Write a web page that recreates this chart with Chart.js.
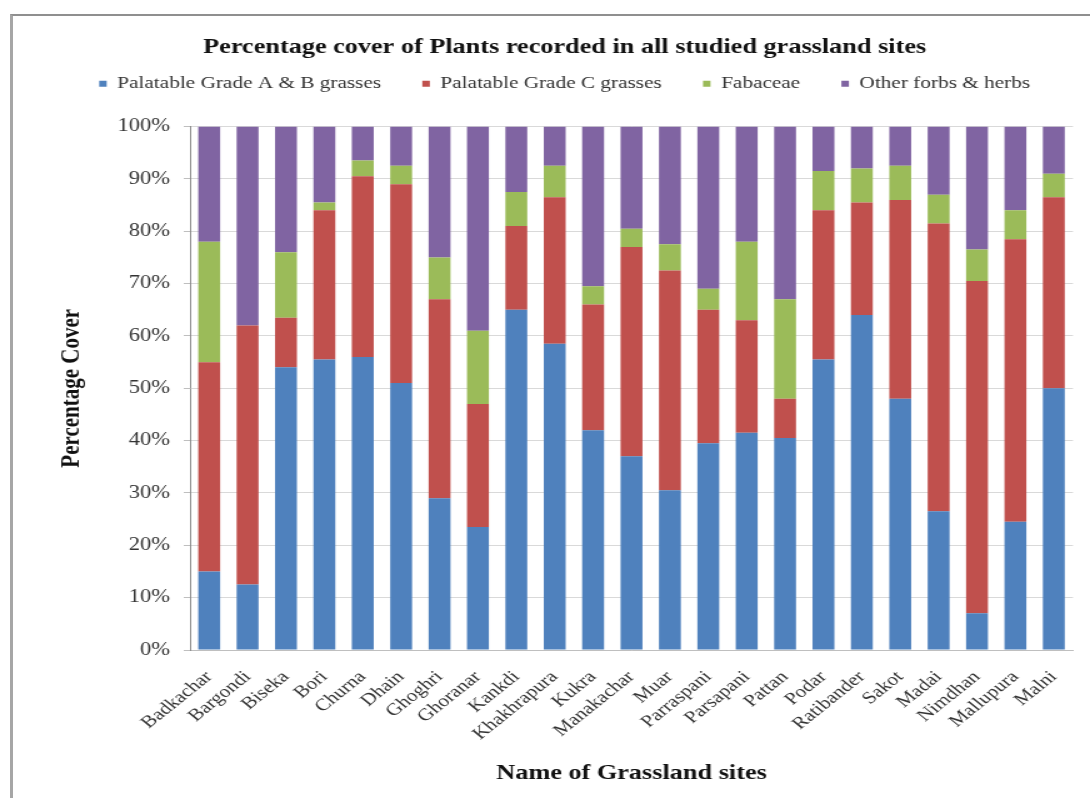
<!DOCTYPE html>
<html>
<head>
<meta charset="utf-8">
<script src="https://cdn.jsdelivr.net/npm/chart.js@4.4.1/dist/chart.umd.min.js"></script>
<style>
  html, body { margin: 0; padding: 0; background: #fff; }
  #wrap { position: relative; width: 1090px; height: 798px; overflow: hidden; }
  /* the chart is laid out at 872px wide and widened to fill the 1090px page */
  #stretch {
    position: absolute; left: 0; top: 0; width: 872px; height: 798px;
    transform: scaleX(1.25); transform-origin: 0 0;
  }
  #c { display: block; width: 872px; height: 798px; }
  #frame {
    position: absolute; left: 10px; top: 14px; right: -4px; bottom: -4px;
    border-left: 3px solid #a6a6a6; border-top: 2px solid #8f8f8f;
    box-sizing: border-box; pointer-events: none;
  }
</style>
</head>
<body>
<div id="wrap">
  <div id="stretch"><canvas id="c" width="872" height="798"></canvas></div>
  <div id="frame"></div>
</div>
<script>
// Grassland sites surveyed
const sites = [
  'Badkachar', 'Bargondi', 'Biseka', 'Bori', 'Churna', 'Dhain', 'Ghoghri',
  'Ghoranar', 'Kankdi', 'Khakhrapura', 'Kukra', 'Manakachar', 'Muar',
  'Parraspani', 'Parsapani', 'Pattan', 'Podar', 'Ratibander', 'Sakot',
  'Madai', 'Nimdhan', 'Mallupura', 'Malni'
];

// Percentage cover per plant group (each site sums to 100)
const gradeAB = [15, 12.5, 54, 55.5, 56, 51, 29, 23.5, 65, 58.5, 42, 37, 30.5, 39.5, 41.5, 40.5, 55.5, 64, 48, 26.5, 7, 24.5, 50];
const gradeC  = [40, 49.5, 9.5, 28.5, 34.5, 38, 38, 23.5, 16, 28, 24, 40, 42, 25.5, 21.5, 7.5, 28.5, 21.5, 38, 55, 63.5, 54, 36.5];
const fabaceae = [23, 0, 12.5, 1.5, 3, 3.5, 8, 14, 6.5, 6, 3.5, 3.5, 5, 4, 15, 19, 7.5, 6.5, 6.5, 5.5, 6, 5.5, 4.5];
const otherForbs = [22, 38, 24, 14.5, 6.5, 7.5, 25, 39, 12.5, 7.5, 30.5, 19.5, 22.5, 31, 22, 33, 8.5, 8, 7.5, 13, 23.5, 16, 9];

// Y axis tick values
const yTicks = [0, 10, 20, 30, 40, 50, 60, 70, 80, 90, 100];

const SERIF = "'Liberation Serif', 'Times New Roman', serif";

const groups = [
  { label: 'Palatable Grade A & B grasses', data: gradeAB, color: '#4f81bd' },
  { label: 'Palatable Grade C grasses', data: gradeC, color: '#c0504d' },
  { label: 'Fabaceae', data: fabaceae, color: '#9bbb59' },
  { label: 'Other forbs & herbs', data: otherForbs, color: '#8064a2' }
];

new Chart(document.getElementById('c'), {
  type: 'bar',
  data: {
    labels: sites,
    datasets: groups.map(g => ({
      label: g.label,
      data: g.data,
      backgroundColor: g.color,
      borderWidth: 0,
      categoryPercentage: 1,
      barPercentage: 0.57
    }))
  },
  options: {
    responsive: false,
    animation: false,
    devicePixelRatio: 1,
    layout: { padding: { left: 45, right: 13.6, top: 0, bottom: 8 } },
    plugins: {
      tooltip: { enabled: false },
      title: {
        display: true,
        text: 'Percentage cover of Plants recorded in all studied grassland sites',
        font: { family: SERIF, size: 21, weight: 'bold' },
        color: '#111',
        padding: { top: 35, bottom: -18 }
      },
      legend: {
        display: true,
        position: 'top',
        labels: {
          font: { family: SERIF, size: 17 },
          color: '#333',
          boxWidth: 6,
          boxHeight: 6,
          padding: 33
        }
      },
      // blank spacer between the legend and the plot
      subtitle: {
        display: true,
        text: ' ',
        weight: 500,
        font: { size: 2 },
        padding: { top: 22, bottom: 0 }
      }
    },
    scales: {
      x: {
        stacked: true,
        afterFit: (s) => { s.height = 140; },
        grid: { display: false },
        border: { display: true, color: '#bfbfbf' },
        ticks: {
          autoSkip: false,
          maxRotation: 45,
          minRotation: 45,
          padding: 9,
          font: { family: SERIF, size: 17 },
          color: '#333'
        },
        title: {
          display: true,
          text: 'Name of Grassland sites',
          font: { family: SERIF, size: 21, weight: 'bold' },
          color: '#111',
          padding: { top: 4, bottom: 4 }
        }
      },
      y: {
        stacked: true,
        min: 0,
        max: 100,
        afterFit: (s) => { s.width = 107; },
        afterBuildTicks: (s) => { s.ticks = yTicks.map(v => ({ value: v })); },
        grid: { color: '#d9d9d9', tickLength: 5, tickColor: '#bfbfbf' },
        border: { display: true, color: '#8c8c8c' },
        ticks: {
          padding: 11,
          callback: (v) => v + '%',
          font: { family: SERIF, size: 18 },
          color: '#333'
        },
        title: {
          display: true,
          text: 'Percentage Cover',
          font: { family: SERIF, size: 21, weight: 'bold' },
          color: '#111',
          padding: { top: 0, bottom: 0 }
        }
      }
    }
  }
});
</script>
</body>
</html>
